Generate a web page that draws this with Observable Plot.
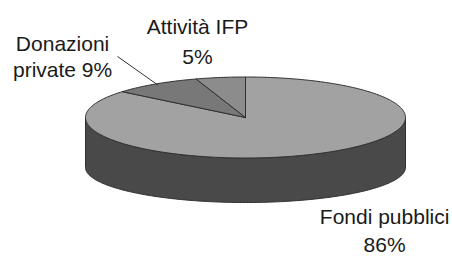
<!DOCTYPE html>
<html><head><meta charset="utf-8">
<script src="https://cdn.jsdelivr.net/npm/d3@7"></script>
<script src="https://cdn.jsdelivr.net/npm/@observablehq/plot@0.6"></script>
<style>html,body{margin:0;padding:0;background:#fff;}</style>
</head><body><div id="chart"></div>
<script>
// ---- data ----
const categories = ["Fondi pubblici", "Donazioni private", "Attività IFP"];
const values = [86, 9, 5];
const labelTexts = ["Fondi pubblici\n86%", "Donazioni\nprivate 9%", "Attività IFP\n5%"];

// ---- styles / layout ----
const colors = ["#a2a2a2", "#787878", "#8c8c8c"];
const sideColor = "#494949";
const outline = "#303030";
const depthOffset = 1.235;   // bottom rim drop (in y units)
const bottomScale = 0.864;   // perspective of bottom rim
const labelLayout = {
  "Fondi pubblici": {dx: 71, dy: 75, lh: 1.35},
  "Donazioni private": {dx: -93, dy: -28, lh: 1.2},
  "Attività IFP": {dx: -23, dy: -38, lh: 1.43}
};

// ---- geometry from values ----
const total = d3.sum(values);
const rad = a => a * Math.PI / 180;
const slices = [];
let acc = 0;
values.forEach((v, i) => {
  const a0 = acc / total * 360; acc += v; const a1 = acc / total * 360;
  slices.push({name: categories[i], a0, a1, mid: (a0 + a1) / 2, label: labelTexts[i]});
});

const topPts = [];
for (const s of slices) {
  topPts.push({name: s.name, x: 0, y: 0});
  const n = Math.max(2, Math.ceil(s.a1 - s.a0));
  for (let k = 0; k <= n; k++) {
    const a = s.a0 + (s.a1 - s.a0) * k / n;
    topPts.push({name: s.name, x: Math.sin(rad(a)), y: Math.cos(rad(a))});
  }
  topPts.push({name: s.name, x: 0, y: 0});
}

const sidePts = [];
for (const s of slices) {
  const lo = Math.max(s.a0, 90), hi = Math.min(s.a1, 270);
  if (hi <= lo) continue;
  const n = Math.max(2, Math.ceil(hi - lo));
  for (let k = 0; k <= n; k++) {
    const a = lo + (hi - lo) * k / n;
    sidePts.push({name: s.name, x: Math.sin(rad(a)), y: Math.cos(rad(a))});
  }
  for (let k = n; k >= 0; k--) {
    const a = lo + (hi - lo) * k / n;
    sidePts.push({name: s.name, x: Math.sin(rad(a)), y: bottomScale * Math.cos(rad(a)) - depthOffset});
  }
}

const labels = slices.map(s => ({name: s.name, text: s.label, x: Math.sin(rad(s.mid)), y: Math.cos(rad(s.mid))}));
const don = slices[1];
const leader = [
  {x: 0.98 * Math.sin(rad(don.mid)), y: 0.98 * Math.cos(rad(don.mid))},
  {x: 1.7 * Math.sin(rad(-28)), y: 1.7 * Math.cos(rad(-28))}
];

const textMarks = labels.map(l => Plot.text([l], {
  x: "x", y: "y", text: "text",
  dx: labelLayout[l.name].dx, dy: labelLayout[l.name].dy,
  lineHeight: labelLayout[l.name].lh,
  textAnchor: "middle", lineAnchor: "middle",
  fontSize: 21, fill: "#1a1a1a"
}));

const chart = Plot.plot({
  width: 452, height: 257, margin: 0,
  x: {domain: [-1, 1], range: [85, 405], axis: null},
  y: {domain: [-1, 1], range: [157.5, 76.5], axis: null},
  color: {domain: categories, range: colors},
  style: {background: "#fff", fontFamily: "'Liberation Sans', Arial, sans-serif"},
  marks: [
    Plot.line(sidePts, {x: "x", y: "y", z: "name", fill: sideColor, stroke: outline, strokeWidth: 1, curve: "linear-closed"}),
    Plot.line(topPts, {x: "x", y: "y", z: "name", fill: "name", stroke: outline, strokeWidth: 1, strokeLinejoin: "round", curve: "linear-closed"}),
    Plot.line(leader, {x: "x", y: "y", stroke: "#333", strokeWidth: 1}),
    ...textMarks
  ]
});
document.getElementById("chart").appendChild(chart);
</script>
</body></html>
